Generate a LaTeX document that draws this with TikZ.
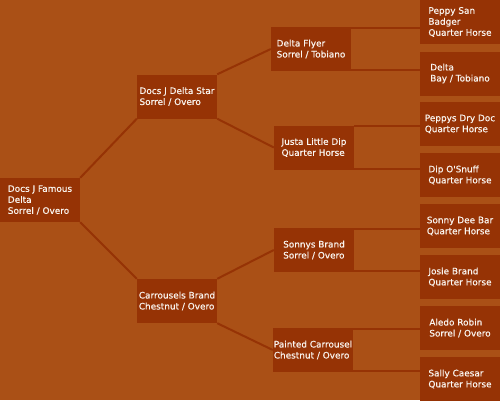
\documentclass[tikz,border=0pt]{standalone}
\usepackage{fontspec}
\newfontfamily\horsefont[FakeBold=0.5]{DejaVu Sans}
\definecolor{bgc}{RGB}{170,80,22}
\definecolor{boxc}{RGB}{150,51,5}
\definecolor{txtc}{RGB}{250,245,240}
\begin{document}
\begin{tikzpicture}[x=1pt,y=-1pt,
  horse/.style={fill=boxc, text=txtc, minimum width=80pt, minimum height=44pt,
    inner sep=0pt, align=left, font=\horsefont\fontsize{8.9}{11}\selectfont},
  link/.style={draw=boxc, line width=2pt}]
\useasboundingbox (0,0) rectangle (500,400);
\fill[bgc] (0,0) rectangle (500,400);
% generation 0
\node[horse] (g0) at (40,200) {Docs J Famous\\Delta\\Sorrel / Overo};
% generation 1
\node[horse] (g1a) at (177,96.5) {Docs J Delta Star\\Sorrel / Overo};
\node[horse] (g1b) at (177,301) {Carrousels Brand\\Chestnut / Overo};
% generation 2
\node[horse] (g2a) at (311,49) {Delta Flyer\\Sorrel / Tobiano};
\node[horse] (g2b) at (314,147.5) {Justa Little Dip\\Quarter Horse};
\node[horse] (g2c) at (314,250) {Sonnys Brand\\Sorrel / Overo};
\node[horse] (g2d) at (313,350) {Painted Carrousel\\Chestnut / Overo};
% generation 3
\node[horse] (g3a) at (460,22) {Peppy San\\Badger\\Quarter Horse};
\node[horse] (g3b) at (460,73.5) {Delta\\Bay / Tobiano};
\node[horse] (g3c) at (460,124) {Peppys Dry Doc\\Quarter Horse};
\node[horse] (g3d) at (460,175) {Dip O'Snuff\\Quarter Horse};
\node[horse] (g3e) at (460,226) {Sonny Dee Bar\\Quarter Horse};
\node[horse] (g3f) at (460,277) {Josie Brand\\Quarter Horse};
\node[horse] (g3g) at (460,328) {Aledo Robin\\Sorrel / Overo};
\node[horse] (g3h) at (460,379) {Sally Caesar\\Quarter Horse};
% links gen0 -> gen1
\draw[link] (g0.north east) -- (g1a.south west);
\draw[link] (g0.south east) -- (g1b.north west);
% links gen1 -> gen2
\draw[link] (g1a.north east) -- (g2a.west);
\draw[link] (g1a.south east) -- (g2b.west);
\draw[link] (g1b.north east) -- (g2c.west);
\draw[link] (g1b.south east) -- (g2d.west);
% links gen2 -> gen3
\draw[link] ([yshift=-1pt]g2a.north east) -- ([yshift=-1pt]g2a.north east -| g3a.west);
\draw[link] ([yshift=1pt]g2a.south east) -- ([yshift=1pt]g2a.south east -| g3b.west);
\draw[link] ([yshift=-1pt]g2b.north east) -- ([yshift=-1pt]g2b.north east -| g3c.west);
\draw[link] ([yshift=1pt]g2b.south east) -- ([yshift=1pt]g2b.south east -| g3d.west);
\draw[link] ([yshift=-1pt]g2c.north east) -- ([yshift=-1pt]g2c.north east -| g3e.west);
\draw[link] ([yshift=1pt]g2c.south east) -- ([yshift=1pt]g2c.south east -| g3f.west);
\draw[link] ([yshift=-1pt]g2d.north east) -- ([yshift=-1pt]g2d.north east -| g3g.west);
\draw[link] ([yshift=1pt]g2d.south east) -- ([yshift=1pt]g2d.south east -| g3h.west);
\end{tikzpicture}
\end{document}
